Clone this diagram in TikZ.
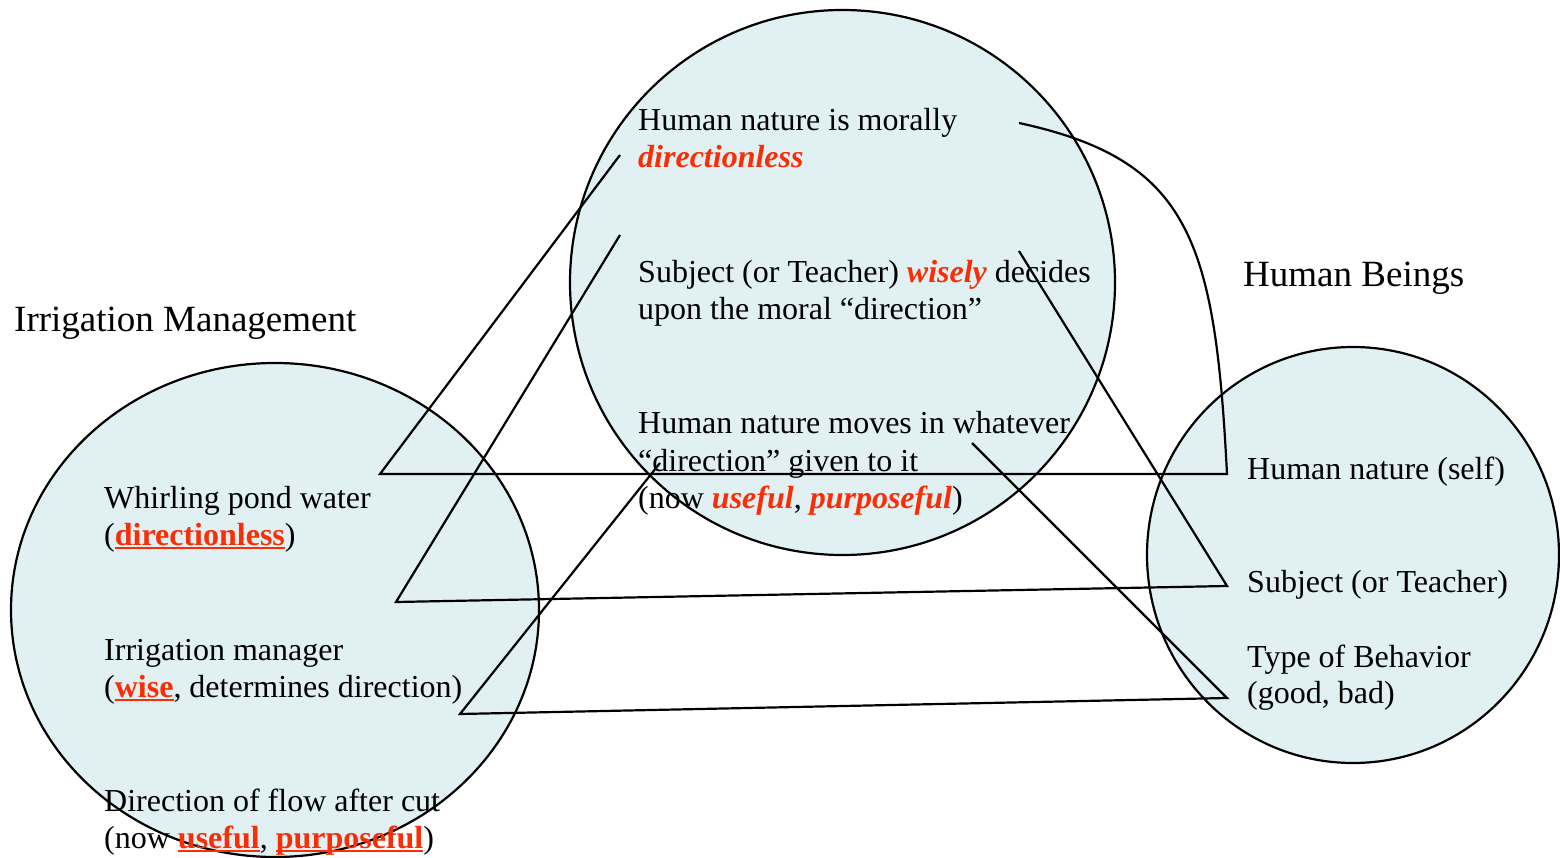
\documentclass[tikz,border=0pt]{standalone}
\usepackage{fontspec}
\setmainfont{Liberation Serif}
\usetikzlibrary{shapes.geometric}
\definecolor{fillc}{RGB}{224,240,243}
\definecolor{redc}{RGB}{250,45,5}
\newcommand\redul[1]{{\color{redc}\bfseries\setbox0\hbox{#1}\rlap{\rule[-4pt]{\wd0}{2.2pt}}\box0}}
\newcommand\redbi[1]{{\color{redc}\bfseries\itshape #1}}
\begin{document}
\begin{tikzpicture}[x=1pt,y=-1pt,
  txt/.style={anchor=base west, inner sep=0pt, font=\fontsize{32}{38}\selectfont},
  ttl/.style={anchor=base west, inner sep=0pt, font=\fontsize{37}{44}\selectfont},
  blob/.style={ellipse, draw=black, line width=2.2pt, fill=fillc, inner sep=0pt},
  link/.style={draw=black, line width=2.2pt, line join=miter}]
\useasboundingbox (0,0) rectangle (1560,858);
% circles
\node[blob, minimum width=528pt, minimum height=494pt] (irr) at (275,610) {};
\node[blob, minimum width=545pt, minimum height=545pt] (mid) at (842.5,282.5) {};
\node[blob, minimum width=412pt, minimum height=416pt] (hum) at (1353,555) {};
% titles
\node[ttl] (t1) at (14,331) {Irrigation Management};
\node[ttl] (t2) at (1243,287) {Human Beings};
% middle texts
\node[txt] (m1) at (638,131) {Human nature is morally};
\node[txt] (m2) at (638,168) {\redbi{directionless}};
\node[txt] (m3) at (638,283) {Subject (or Teacher) \redbi{wisely} decides};
\node[txt] (m4) at (638,320) {upon the moral “direction”};
\node[txt] (m5) at (638,433) {Human nature moves in whatever};
\node[txt] (m6) at (638,471) {“direction” given to it};
\node[txt] (m7) at (638,508) {(now \redbi{useful}, \redbi{purposeful})};
% left texts
\node[txt] (l1) at (104,508) {Whirling pond water};
\node[txt] (l2) at (104,545) {(\redul{directionless})};
\node[txt] (l3) at (104,660) {Irrigation manager};
\node[txt] (l4) at (104,697) {(\redul{wise}, determines direction)};
\node[txt] (l5) at (104,811) {Direction of flow after cut};
\node[txt] (l6) at (104,848) {(now \redul{useful}, \redul{purposeful})};
% right texts
\node[txt] (r1) at (1247,479) {Human nature (self)};
\node[txt] (r2) at (1247,592) {Subject (or Teacher)};
\node[txt] (r3) at (1247,667) {Type of Behavior};
\node[txt] (r4) at (1247,703) {(good, bad)};
% connector points
\coordinate (a1) at (620,155);
\coordinate (a2) at (380,474);
\coordinate (a3) at (1227,474);
\coordinate (a4) at (1019,123);
\coordinate (b1) at (620,235);
\coordinate (b2) at (396,602);
\coordinate (b3) at (1227,586);
\coordinate (b4) at (1019,251);
\coordinate (c1) at (660,463);
\coordinate (c2) at (460,714);
\coordinate (c3) at (1227,698);
\coordinate (c4) at (972,443);
\draw[link] (a1) -- (a2) -- (a3) .. controls (1215,240) and (1190,160) .. (a4);
\draw[link] (b1) -- (b2) -- (b3) -- (b4);
\draw[link] (c1) -- (c2) -- (c3) -- (c4);
\end{tikzpicture}
\end{document}
